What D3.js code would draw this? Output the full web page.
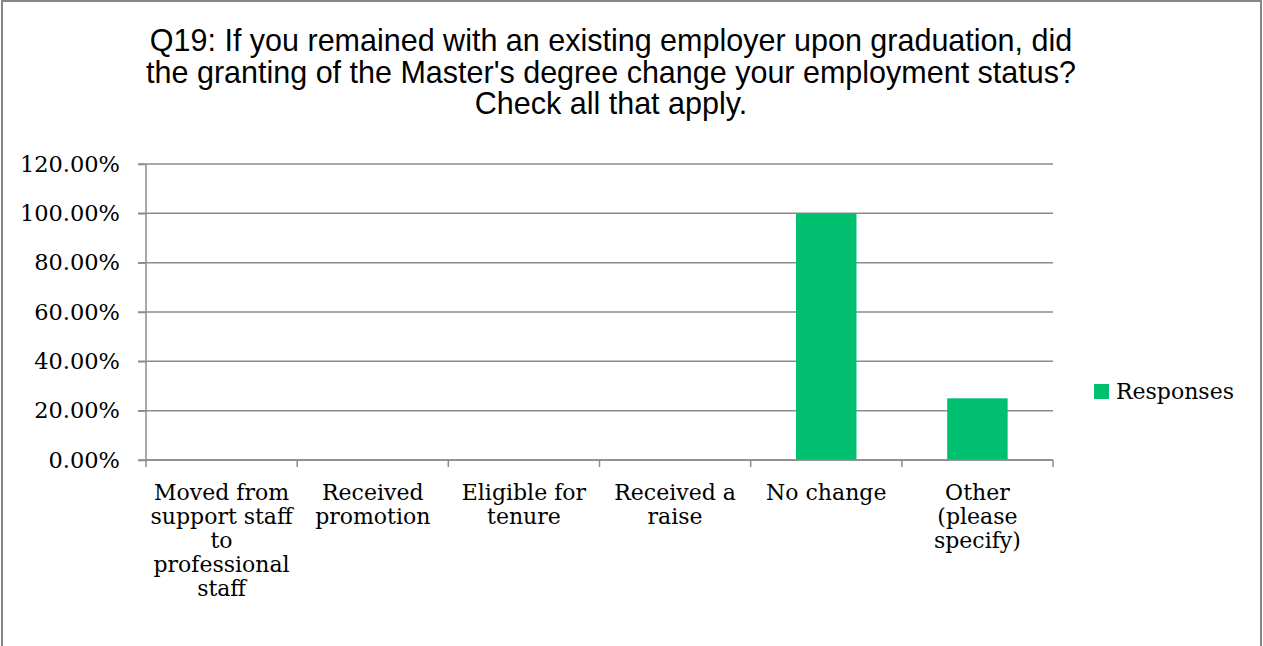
<!DOCTYPE html>
<html>
<head>
<meta charset="utf-8">
<script src="https://cdn.jsdelivr.net/npm/d3@7"></script>
<style>
  body { margin: 0; background: #fff; }
  svg { display: block; }
</style>
</head>
<body>
<svg id="chart" width="1263" height="646"></svg>
<script>
const titleLines = [
  "Q19: If you remained with an existing employer upon graduation, did",
  "the granting of the Master's degree change your employment status?",
  "Check all that apply."
];
const categories = [
  ["Moved from", "support staff", "to", "professional", "staff"],
  ["Received", "promotion"],
  ["Eligible for", "tenure"],
  ["Received a", "raise"],
  ["No change"],
  ["Other", "(please", "specify)"]
];
const responses = [0, 0, 0, 0, 1.0, 0.25];
const yTicks = [0, 0.2, 0.4, 0.6, 0.8, 1.0, 1.2];
const seriesName = "Responses";

const svg = d3.select("#chart"),
  margin = { top: 164, left: 146, right: 210, bottom: 186 },
  width = 1263 - margin.left - margin.right,
  height = 646 - margin.top - margin.bottom,
  serif = "'DejaVu Serif', serif",
  barColor = "#00bf6f",
  gridColor = "#8c8c8c";

// chart frame
svg.append("rect")
  .attr("x", 2).attr("y", 1)
  .attr("width", 1259).attr("height", 660)
  .attr("fill", "none").attr("stroke", "#868686").attr("stroke-width", 2);

svg.append("g")
  .selectAll("text")
  .data(titleLines)
  .enter()
  .append("text")
  .attr("x", 611)
  .attr("y", (d, i) => 51 + i * 31.5)
  .attr("text-anchor", "middle")
  .style("font-family", "'Liberation Sans', Arial, sans-serif")
  .style("font-size", "30.5px")
  .attr("fill", "#000")
  .text(d => d);

const g = svg.append("g")
  .attr("transform", `translate(${margin.left},${margin.top})`);

const x = d3.scaleBand()
  .domain(d3.range(categories.length))
  .range([0, width])
  .paddingInner(0.6)
  .paddingOuter(0.3);

const y = d3.scaleLinear()
  .domain([0, 1.2])
  .range([height, 0]);

// gridlines
g.append("g")
  .selectAll("line")
  .data(yTicks)
  .enter()
  .append("line")
  .attr("x1", -8).attr("x2", width)
  .attr("y1", d => y(d)).attr("y2", d => y(d))
  .attr("stroke", gridColor).attr("stroke-width", 1.5);

// y axis
const yAxis = g.append("g")
  .call(d3.axisLeft(y).tickValues(yTicks).tickFormat(d3.format(".2%")).tickSize(8).tickPadding(18));
yAxis.selectAll("line, path").attr("stroke", gridColor).attr("stroke-width", 1.5);
yAxis.select(".domain").attr("d", `M0,0V${height}`);
yAxis.selectAll("text")
  .style("font-family", serif).style("font-size", "22.5px").attr("fill", "#000");

// bars
g.selectAll(".bar")
  .data(responses)
  .enter()
  .append("rect")
  .attr("class", "bar")
  .attr("x", (d, i) => x(i))
  .attr("width", x.bandwidth())
  .attr("y", d => y(d))
  .attr("height", d => height - y(d))
  .attr("fill", barColor);

// x axis line and category ticks
const step = width / categories.length;
g.append("line")
  .attr("x1", 0).attr("x2", width)
  .attr("y1", height).attr("y2", height)
  .attr("stroke", gridColor).attr("stroke-width", 1.5);
g.append("g")
  .selectAll("line")
  .data(d3.range(categories.length + 1))
  .enter()
  .append("line")
  .attr("x1", i => i * step).attr("x2", i => i * step)
  .attr("y1", height).attr("y2", height + 7)
  .attr("stroke", gridColor).attr("stroke-width", 1.5);

const labels = g.append("g")
  .selectAll("text")
  .data(categories)
  .enter()
  .append("text")
  .attr("x", (d, i) => x(i) + x.bandwidth() / 2)
  .attr("y", height + 40)
  .attr("text-anchor", "middle")
  .style("font-family", serif)
  .style("font-size", "22px")
  .attr("fill", "#000");
labels.selectAll("tspan")
  .data(d => d)
  .enter()
  .append("tspan")
  .attr("x", function() { return this.parentNode.getAttribute("x"); })
  .attr("dy", (d, i) => i === 0 ? 0 : 24)
  .text(d => d);

// legend
const legend = svg.append("g").attr("transform", "translate(1094,384)");
legend.append("rect")
  .attr("width", 15).attr("height", 15)
  .attr("fill", barColor);
legend.append("text")
  .attr("x", 22).attr("y", 15)
  .style("font-family", serif).style("font-size", "22px")
  .attr("fill", "#000")
  .text(seriesName);
</script>
</body>
</html>
